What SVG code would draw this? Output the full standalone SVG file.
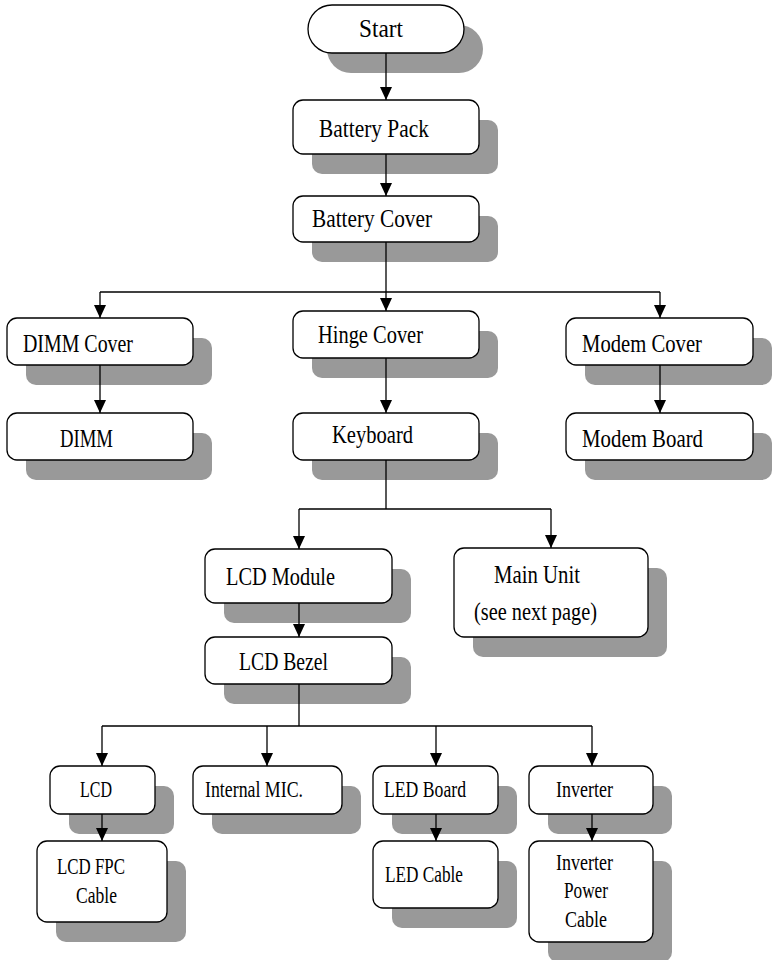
<svg xmlns="http://www.w3.org/2000/svg" width="772" height="960" viewBox="0 0 772 960">
<style>
.sh{fill:#999999;stroke:none}
.bx{fill:#ffffff;stroke:#000000;stroke-width:1.3}
.t{font-family:"Liberation Serif","Times New Roman",serif;font-size:26px;fill:#000000}
.s{font-family:"Liberation Serif","Times New Roman",serif;font-size:23px;fill:#000000}
.c{fill:none;stroke:#000000;stroke-width:1.3}
</style>
<defs>
<marker id="ah" markerUnits="userSpaceOnUse" markerWidth="13" markerHeight="12" refX="13" refY="6" orient="auto">
<path d="M0,0 L13,6 L0,12 Z" fill="#000000"/>
</marker>
</defs>
<rect width="772" height="960" fill="#ffffff"/>

<g id="start">
<rect class="sh" x="327" y="25" width="156" height="48" rx="24"/>
<rect class="bx" x="308" y="5" width="156" height="48" rx="24"/>
<text class="t" x="359" y="37" font-size="23" textLength="44" lengthAdjust="spacingAndGlyphs">Start</text>
</g>
<g id="battery-pack">
<rect class="sh" x="312" y="120" width="186" height="54" rx="10"/>
<rect class="bx" x="293" y="100" width="186" height="54" rx="10"/>
<text class="t" x="319" y="137" textLength="110" lengthAdjust="spacingAndGlyphs">Battery Pack</text>
</g>
<g id="battery-cover">
<rect class="sh" x="312" y="216" width="186" height="46" rx="10"/>
<rect class="bx" x="293" y="196" width="186" height="46" rx="10"/>
<text class="t" x="312" y="227" textLength="120" lengthAdjust="spacingAndGlyphs">Battery Cover</text>
</g>
<g id="dimm-cover">
<rect class="sh" x="26" y="338" width="186" height="47" rx="10"/>
<rect class="bx" x="7" y="318" width="186" height="47" rx="10"/>
<text class="t" x="23" y="352" textLength="110" lengthAdjust="spacingAndGlyphs">DIMM Cover</text>
</g>
<g id="hinge-cover">
<rect class="sh" x="312" y="331" width="186" height="47" rx="10"/>
<rect class="bx" x="293" y="311" width="186" height="47" rx="10"/>
<text class="t" x="318" y="343" textLength="105" lengthAdjust="spacingAndGlyphs">Hinge Cover</text>
</g>
<g id="modem-cover">
<rect class="sh" x="585" y="338" width="187" height="47" rx="10"/>
<rect class="bx" x="566" y="318" width="187" height="47" rx="10"/>
<text class="t" x="582" y="352" textLength="120" lengthAdjust="spacingAndGlyphs">Modem Cover</text>
</g>
<g id="dimm">
<rect class="sh" x="26" y="433" width="186" height="47" rx="10"/>
<rect class="bx" x="7" y="413" width="186" height="47" rx="10"/>
<text class="t" x="60" y="447" textLength="53" lengthAdjust="spacingAndGlyphs">DIMM</text>
</g>
<g id="keyboard">
<rect class="sh" x="312" y="433" width="186" height="47" rx="10"/>
<rect class="bx" x="293" y="413" width="186" height="47" rx="10"/>
<text class="t" x="332" y="443" textLength="81" lengthAdjust="spacingAndGlyphs">Keyboard</text>
</g>
<g id="modem-board">
<rect class="sh" x="585" y="433" width="187" height="47" rx="10"/>
<rect class="bx" x="566" y="413" width="187" height="47" rx="10"/>
<text class="t" x="582" y="447" textLength="121" lengthAdjust="spacingAndGlyphs">Modem Board</text>
</g>
<g id="lcd-module">
<rect class="sh" x="224" y="569" width="187" height="54" rx="10"/>
<rect class="bx" x="205" y="549" width="187" height="54" rx="10"/>
<text class="t" x="226" y="585" textLength="109" lengthAdjust="spacingAndGlyphs">LCD Module</text>
</g>
<g id="main-unit">
<rect class="sh" x="473" y="568" width="194" height="89" rx="10"/>
<rect class="bx" x="454" y="548" width="194" height="89" rx="10"/>
<text class="t" x="494" y="583" textLength="86" lengthAdjust="spacingAndGlyphs">Main Unit</text>
<text class="t" x="474" y="620" textLength="123" lengthAdjust="spacingAndGlyphs">(see next page)</text>
</g>
<g id="lcd-bezel">
<rect class="sh" x="224" y="657" width="187" height="47" rx="10"/>
<rect class="bx" x="205" y="637" width="187" height="47" rx="10"/>
<text class="t" x="239" y="670" textLength="89" lengthAdjust="spacingAndGlyphs">LCD Bezel</text>
</g>
<g id="lcd">
<rect class="sh" x="69" y="786" width="105" height="48" rx="10"/>
<rect class="bx" x="50" y="766" width="105" height="48" rx="10"/>
<text class="s" x="80" y="797" textLength="32" lengthAdjust="spacingAndGlyphs">LCD</text>
</g>
<g id="internal-mic">
<rect class="sh" x="212" y="786" width="149" height="48" rx="10"/>
<rect class="bx" x="193" y="766" width="149" height="48" rx="10"/>
<text class="s" x="205" y="797" textLength="98" lengthAdjust="spacingAndGlyphs">Internal MIC.</text>
</g>
<g id="led-board">
<rect class="sh" x="392" y="786" width="125" height="48" rx="10"/>
<rect class="bx" x="373" y="766" width="125" height="48" rx="10"/>
<text class="s" x="384" y="797" textLength="82" lengthAdjust="spacingAndGlyphs">LED Board</text>
</g>
<g id="inverter">
<rect class="sh" x="548" y="786" width="124" height="48" rx="10"/>
<rect class="bx" x="529" y="766" width="124" height="48" rx="10"/>
<text class="s" x="556" y="797" textLength="57" lengthAdjust="spacingAndGlyphs">Inverter</text>
</g>
<g id="lcd-fpc-cable">
<rect class="sh" x="56" y="861" width="130" height="81" rx="10"/>
<rect class="bx" x="37" y="841" width="130" height="81" rx="10"/>
<text class="s" x="57" y="874" textLength="68" lengthAdjust="spacingAndGlyphs">LCD FPC</text>
<text class="s" x="76" y="903" textLength="41" lengthAdjust="spacingAndGlyphs">Cable</text>
</g>
<g id="led-cable">
<rect class="sh" x="392" y="861" width="125" height="67" rx="10"/>
<rect class="bx" x="373" y="841" width="125" height="67" rx="10"/>
<text class="s" x="385" y="882" textLength="78" lengthAdjust="spacingAndGlyphs">LED Cable</text>
</g>
<g id="inverter-power-cable">
<rect class="sh" x="548" y="861" width="124" height="101" rx="10"/>
<rect class="bx" x="529" y="841" width="124" height="101" rx="10"/>
<text class="s" x="556" y="870" textLength="57" lengthAdjust="spacingAndGlyphs">Inverter</text>
<text class="s" x="564" y="898" textLength="44" lengthAdjust="spacingAndGlyphs">Power</text>
<text class="s" x="565" y="927" textLength="42" lengthAdjust="spacingAndGlyphs">Cable</text>
</g>

<g id="connectors">
<path class="c" d="M386,53 V100" marker-end="url(#ah)"/>
<path class="c" d="M386,154 V196" marker-end="url(#ah)"/>
<path class="c" d="M386,242 V311" marker-end="url(#ah)"/>
<path class="c" d="M100,292 H660"/>
<path class="c" d="M100,292 V318" marker-end="url(#ah)"/>
<path class="c" d="M660,292 V318" marker-end="url(#ah)"/>
<path class="c" d="M100,365 V413" marker-end="url(#ah)"/>
<path class="c" d="M386,358 V413" marker-end="url(#ah)"/>
<path class="c" d="M660,365 V413" marker-end="url(#ah)"/>
<path class="c" d="M386,460 V509 M299,509 H551"/>
<path class="c" d="M299,509 V549" marker-end="url(#ah)"/>
<path class="c" d="M551,509 V548" marker-end="url(#ah)"/>
<path class="c" d="M299,603 V637" marker-end="url(#ah)"/>
<path class="c" d="M299,684 V726 M102,726 H592"/>
<path class="c" d="M102,726 V766" marker-end="url(#ah)"/>
<path class="c" d="M267,726 V766" marker-end="url(#ah)"/>
<path class="c" d="M436,726 V766" marker-end="url(#ah)"/>
<path class="c" d="M592,726 V766" marker-end="url(#ah)"/>
<path class="c" d="M102,814 V841" marker-end="url(#ah)"/>
<path class="c" d="M436,814 V841" marker-end="url(#ah)"/>
<path class="c" d="M592,814 V841" marker-end="url(#ah)"/>
</g>
</svg>
